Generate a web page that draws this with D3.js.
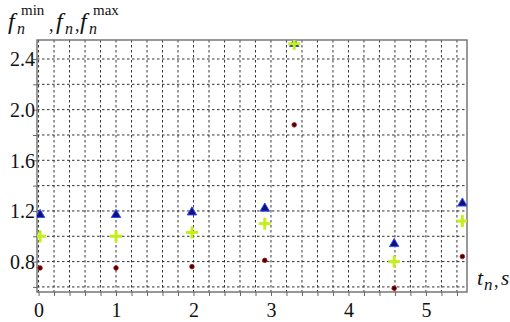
<!DOCTYPE html>
<html>
<head>
<meta charset="utf-8">
<script src="https://cdn.jsdelivr.net/npm/d3@7"></script>
<style>
  html, body { margin: 0; padding: 0; background: #fff; }
  svg { display: block; }
  svg text { font-family: "Liberation Serif", "Times New Roman", Tinos, "DejaVu Serif", "Noto Serif", FreeSerif, serif; }
</style>
</head>
<body>
<div id="chart"></div>
<script>
'use strict';

// time points t_n, s
const times = [0.02, 1.0, 1.98, 2.92, 3.30, 4.59, 5.47];
// f_n^max (triangles), f_n (crosses), f_n^min (dots)
const fMax = [1.17, 1.17, 1.19, 1.22, 2.52, 0.94, 1.26];
const fMid = [1.00, 1.00, 1.03, 1.10, 2.52, 0.80, 1.12];
const fMin = [0.75, 0.75, 0.76, 0.81, 1.88, 0.59, 0.84];

const xTicks = [0, 1, 2, 3, 4, 5];
const yTicks = [0.8, 1.2, 1.6, 2.0, 2.4];

const W = 510, H = 322;
const pL = 37, pR = 467, pT = 40, pB = 292;

const x = d3.scaleLinear().domain([-0.02, 5.53]).range([pL, pR]);
const y = d3.scaleLinear().domain([0.56, 2.55]).range([pB, pT]);

const svg = d3.select('#chart').append('svg')
    .attr('width', W)
    .attr('height', H);

svg.append('defs').append('clipPath').attr('id', 'plot')
    .append('rect')
    .attr('x', pL).attr('y', pT)
    .attr('width', pR - pL).attr('height', pB - pT);

// dashed grid every 0.2
const xGrid = d3.range(0, 5.41, 0.2);
const yGrid = d3.range(0.6, 2.41, 0.2);

const grid = svg.append('g')
    .attr('stroke', '#333')
    .attr('stroke-width', 1)
    .attr('stroke-dasharray', '2.5,2.5');

grid.selectAll('.vx').data(xGrid).join('line')
    .attr('x1', d => x(d)).attr('x2', d => x(d))
    .attr('y1', pT).attr('y2', pB);

grid.selectAll('.hy').data(yGrid).join('line')
    .attr('x1', pL).attr('x2', pR)
    .attr('y1', d => y(d)).attr('y2', d => y(d));

// frame
svg.append('rect')
    .attr('x', pL).attr('y', pT)
    .attr('width', pR - pL).attr('height', pB - pT)
    .attr('fill', 'none')
    .attr('stroke', '#777')
    .attr('stroke-width', 1.5);

// axes
const xAxis = d3.axisBottom(x).tickValues(xGrid).tickSize(4)
    .tickFormat(d => xTicks.some(t => Math.abs(t - d) < 1e-6) ? d3.format('d')(d) : '');
const yAxis = d3.axisLeft(y).tickValues(yGrid).tickSize(4)
    .tickFormat(d => yTicks.some(t => Math.abs(t - d) < 1e-6) ? d3.format('.1f')(d) : '');

const gx = svg.append('g')
    .attr('transform', `translate(0,${pB})`)
    .call(xAxis);
const gy = svg.append('g')
    .attr('transform', `translate(${pL},0)`)
    .call(yAxis);

[gx, gy].forEach(g => {
    g.attr('font-family', null).attr('font-size', null);
    g.select('.domain').remove();
    g.selectAll('.tick line').attr('stroke', '#666');
    g.selectAll('.tick text')
        .style('font-size', '20px')
        .attr('fill', '#111');
});
gx.selectAll('.tick text').attr('dy', '0.92em');
gy.selectAll('.tick text').attr('x', -2).attr('dy', '0.34em');

// markers
const marks = svg.append('g').attr('clip-path', 'url(#plot)');

const tri = d3.symbol().type(d3.symbolTriangle).size(38);
marks.selectAll('.tri').data(times.map((t, i) => [t, fMax[i]])).join('path')
    .attr('d', tri)
    .attr('transform', d => `translate(${x(d[0])},${y(d[1])})`)
    .attr('fill', '#10107a')
    .attr('stroke', '#2f4cff')
    .attr('stroke-width', 1);

marks.selectAll('.dot').data(times.map((t, i) => [t, fMin[i]])).join('circle')
    .attr('cx', d => x(d[0]))
    .attr('cy', d => y(d[1]))
    .attr('r', 2.3)
    .attr('fill', '#3a0000')
    .attr('stroke', '#c01010')
    .attr('stroke-width', 0.8);

const cross = marks.selectAll('.cross').data(times.map((t, i) => [t, fMid[i]])).join('g')
    .attr('transform', d => `translate(${x(d[0])},${y(d[1])})`)
    .attr('stroke', '#c4ee1c')
    .attr('stroke-width', 3);
cross.append('line').attr('x1', -6).attr('x2', 6).attr('y1', 0).attr('y2', 0);
cross.append('line').attr('x1', 0).attr('x2', 0).attr('y1', -6).attr('y2', 6);

// axis titles
const title = svg.append('g').attr('fill', '#111');

function fTerm(x0, sup) {
    title.append('text').attr('x', x0).attr('y', 29)
        .style('font-size', '24px').style('font-style', 'italic').text('f');
    title.append('text').attr('x', x0 + 9).attr('y', 34)
        .style('font-size', '16px').style('font-style', 'italic').text('n');
    if (sup) {
        title.append('text').attr('x', x0 + 13).attr('y', 15)
            .style('font-size', '15px').text(sup);
    }
}
fTerm(8, 'min');
title.append('text').attr('x', 49).attr('y', 31).style('font-size', '18px').text(',');
fTerm(56, null);
title.append('text').attr('x', 75).attr('y', 31).style('font-size', '18px').text(',');
fTerm(80, 'max');

const tl = svg.append('g').attr('fill', '#111');
tl.append('text').attr('x', 477).attr('y', 285)
    .style('font-size', '22px').style('font-style', 'italic').text('t');
tl.append('text').attr('x', 484).attr('y', 290)
    .style('font-size', '17px').style('font-style', 'italic').text('n');
tl.append('text').attr('x', 494).attr('y', 287).style('font-size', '18px').text(',');
tl.append('text').attr('x', 501).attr('y', 285)
    .style('font-size', '21px').style('font-style', 'italic').text('s');
</script>
</body>
</html>
